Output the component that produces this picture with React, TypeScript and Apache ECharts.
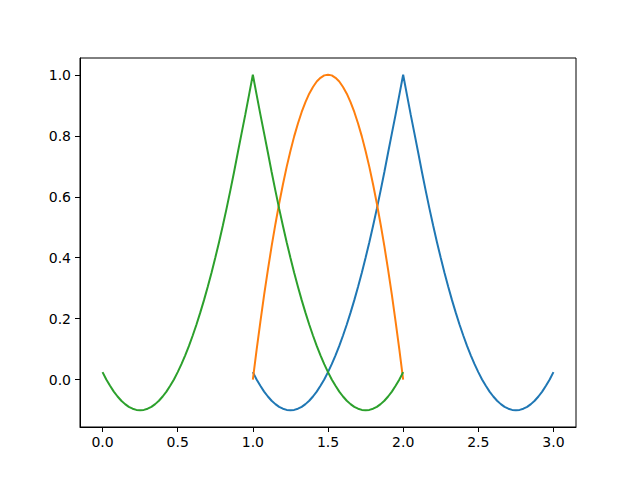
import React, { useEffect, useRef } from "react";
import * as echarts from "echarts";

const greenX = [
  0, 0.025, 0.05, 0.075, 0.1, 0.125, 0.15, 0.175, 0.2, 0.225, 0.25, 0.275, 0.3, 0.325, 0.35, 0.375, 0.4, 0.425, 0.45, 0.475,
  0.5, 0.525, 0.55, 0.575, 0.6, 0.625, 0.65, 0.675, 0.7, 0.725, 0.75, 0.775, 0.8, 0.825, 0.85, 0.875, 0.9, 0.925, 0.95, 0.975,
  1.0, 1.025, 1.05, 1.075, 1.1, 1.125, 1.15, 1.175, 1.2, 1.225, 1.25, 1.275, 1.3, 1.325, 1.35, 1.375, 1.4, 1.425, 1.45, 1.475,
  1.5, 1.525, 1.55, 1.575, 1.6, 1.625, 1.65, 1.675, 1.7, 1.725, 1.75, 1.775, 1.8, 1.825, 1.85, 1.875, 1.9, 1.925, 1.95, 1.975, 2.0,
];
const greenY = [
  0.025, 0.001, -0.02, -0.039, -0.055, -0.069, -0.08, -0.089, -0.095, -0.099, -0.1, -0.099, -0.095, -0.089, -0.08, -0.069, -0.055, -0.039, -0.02, 0.001,
  0.025, 0.051, 0.08, 0.111, 0.145, 0.181, 0.22, 0.261, 0.305, 0.351, 0.4, 0.451, 0.505, 0.561, 0.62, 0.681, 0.745, 0.808, 0.87, 0.935,
  1.0, 0.935, 0.87, 0.808, 0.745, 0.681, 0.62, 0.561, 0.505, 0.451, 0.4, 0.351, 0.305, 0.261, 0.22, 0.181, 0.145, 0.111, 0.08, 0.051,
  0.025, 0.001, -0.02, -0.039, -0.055, -0.069, -0.08, -0.089, -0.095, -0.099, -0.1, -0.099, -0.095, -0.089, -0.08, -0.069, -0.055, -0.039, -0.02, 0.001, 0.025,
];

const blueX = [
  1.0, 1.025, 1.05, 1.075, 1.1, 1.125, 1.15, 1.175, 1.2, 1.225, 1.25, 1.275, 1.3, 1.325, 1.35, 1.375, 1.4, 1.425, 1.45, 1.475,
  1.5, 1.525, 1.55, 1.575, 1.6, 1.625, 1.65, 1.675, 1.7, 1.725, 1.75, 1.775, 1.8, 1.825, 1.85, 1.875, 1.9, 1.925, 1.95, 1.975,
  2.0, 2.025, 2.05, 2.075, 2.1, 2.125, 2.15, 2.175, 2.2, 2.225, 2.25, 2.275, 2.3, 2.325, 2.35, 2.375, 2.4, 2.425, 2.45, 2.475,
  2.5, 2.525, 2.55, 2.575, 2.6, 2.625, 2.65, 2.675, 2.7, 2.725, 2.75, 2.775, 2.8, 2.825, 2.85, 2.875, 2.9, 2.925, 2.95, 2.975, 3.0,
];
const blueY = [
  0.025, 0.001, -0.02, -0.039, -0.055, -0.069, -0.08, -0.089, -0.095, -0.099, -0.1, -0.099, -0.095, -0.089, -0.08, -0.069, -0.055, -0.039, -0.02, 0.001,
  0.025, 0.051, 0.08, 0.111, 0.145, 0.181, 0.22, 0.261, 0.305, 0.351, 0.4, 0.451, 0.505, 0.561, 0.62, 0.681, 0.745, 0.808, 0.87, 0.935,
  1.0, 0.935, 0.87, 0.808, 0.745, 0.681, 0.62, 0.561, 0.505, 0.451, 0.4, 0.351, 0.305, 0.261, 0.22, 0.181, 0.145, 0.111, 0.08, 0.051,
  0.025, 0.001, -0.02, -0.039, -0.055, -0.069, -0.08, -0.089, -0.095, -0.099, -0.1, -0.099, -0.095, -0.089, -0.08, -0.069, -0.055, -0.039, -0.02, 0.001, 0.025,
];

const orangeX = [
  1.0, 1.025, 1.05, 1.075, 1.1, 1.125, 1.15, 1.175, 1.2, 1.225, 1.25, 1.275, 1.3, 1.325, 1.35, 1.375, 1.4, 1.425, 1.45, 1.475,
  1.5, 1.525, 1.55, 1.575, 1.6, 1.625, 1.65, 1.675, 1.7, 1.725, 1.75, 1.775, 1.8, 1.825, 1.85, 1.875, 1.9, 1.925, 1.95, 1.975, 2.0,
];
const orangeY = [
  0, 0.098, 0.19, 0.278, 0.36, 0.438, 0.51, 0.578, 0.64, 0.698, 0.75, 0.798, 0.84, 0.878, 0.91, 0.938, 0.96, 0.978, 0.99, 0.998,
  1.0, 0.998, 0.99, 0.978, 0.96, 0.938, 0.91, 0.878, 0.84, 0.798, 0.75, 0.698, 0.64, 0.578, 0.51, 0.438, 0.36, 0.278, 0.19, 0.098, 0,
];

const xTicks = [0, 0.5, 1.0, 1.5, 2.0, 2.5, 3.0];
const yTicks = [0, 0.2, 0.4, 0.6, 0.8, 1.0];

const pairs = (xs: number[], ys: number[]) => xs.map((x, i) => [x, ys[i]]);

export default function App() {
  const ref = useRef<HTMLDivElement>(null);
  useEffect(() => {
    document.body.style.margin = "0";
    const chart = echarts.init(ref.current!, null, { renderer: "svg" });
    const font = { fontFamily: "DejaVu Sans", fontSize: 14, color: "#000" };
    const mkLine = (name: string, data: number[][], color: string) => ({
      name,
      type: "line",
      data,
      showSymbol: false,
      symbol: "none",
      lineStyle: { color, width: 2 },
      itemStyle: { color },
      z: 2,
    });
    chart.setOption({
      animation: false,
      backgroundColor: "#ffffff",
      grid: {
        left: 80,
        right: 64,
        top: 58,
        bottom: 53,
        show: true,
        borderColor: "#000",
        borderWidth: 1,
        backgroundColor: "transparent",
      },
      xAxis: {
        type: "value",
        min: -0.15,
        max: 3.15,
        splitLine: { show: false },
        axisLine: { show: true, onZero: false, lineStyle: { color: "#000", width: 1 } },
        axisTick: { show: true, length: 5, customValues: xTicks, lineStyle: { color: "#000", width: 1 } },
        axisLabel: {
          ...font,
          margin: 8,
          customValues: xTicks,
          formatter: (v: number) => v.toFixed(1),
        },
      },
      yAxis: {
        type: "value",
        min: -0.155,
        max: 1.055,
        splitLine: { show: false },
        axisLine: { show: true, onZero: false, lineStyle: { color: "#000", width: 1 } },
        axisTick: { show: true, length: 5, customValues: yTicks, lineStyle: { color: "#000", width: 1 } },
        axisLabel: {
          ...font,
          margin: 9,
          customValues: yTicks,
          formatter: (v: number) => v.toFixed(1),
        },
      },
      series: [
        mkLine("blue", pairs(blueX, blueY), "#1f77b4"),
        mkLine("orange", pairs(orangeX, orangeY), "#ff7f0e"),
        mkLine("green", pairs(greenX, greenY), "#2ca02c"),
      ],
    });
    return () => chart.dispose();
  }, []);
  return <div ref={ref} style={{ width: 640, height: 480 }} />;
}
